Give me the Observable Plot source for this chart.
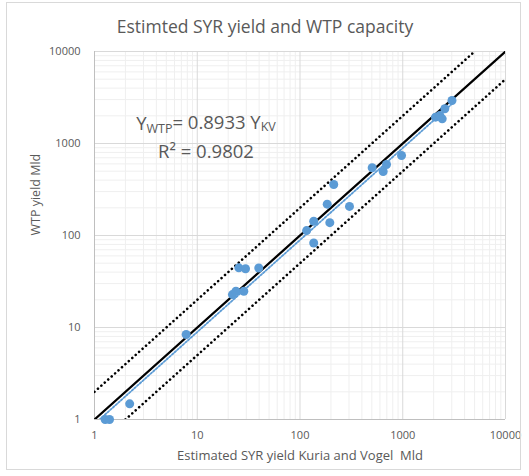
<!DOCTYPE html>
<html><head><meta charset="utf-8">
<script src="https://cdn.jsdelivr.net/npm/d3@7"></script>
<script src="https://cdn.jsdelivr.net/npm/@observablehq/plot@0.6"></script>
<style>
body{margin:0;background:#fff;}
#chart{position:relative;width:529px;height:476px;}
#frame{position:absolute;left:6px;top:2px;width:515px;height:468px;border:1px solid #d9d9d9;box-sizing:border-box;pointer-events:none;}
</style></head><body><div id="chart"><div id="frame"></div></div>
<script>
const title = "Estimted SYR yield and WTP capacity";
const xLabel = "Estimated SYR yield Kuria and Vogel  Mld";
const yLabel = "WTP yield Mld";
const tickValues = [1, 10, 100, 1000, 10000];

// scatter data (Kuria & Vogel estimate vs WTP yield), Mld
const kvYield  = [1.27, 1.4, 2.2, 7.8, 22.0, 23.8, 25.4, 28.4, 29.5, 39.7, 116, 136, 136, 184, 195, 213, 303, 504, 645, 695, 973, 2084, 2294, 2421, 2566, 3014];
const wtpYield = [1, 1, 1.48, 8.4, 22.8, 24.8, 44.5, 24.8, 43.5, 44.3, 113, 143, 83, 219, 138, 358, 207, 545, 496, 591, 741, 1932, 2015, 1855, 2384, 2934];

// reference lines
const oneToOneX = [1, 10000], oneToOneY = [1, 10000];
const upperX = [1, 5000], upperY = [2, 10000];
const lowerX = [2, 10000], lowerY = [1, 5000];
const trendX = [1.12, 3014], trendY = [1, 2692];

const eqMain = "Y", eqSub1 = "WTP", eqMid = "= 0.8933 Y", eqSub2 = "KV";
const r2Text = "R\u00b2 = 0.9802";
const annotX = 12.3, annotY1 = 1384, annotY2 = 680;

const pts = kvYield.map((x, i) => ({x, y: wtpYield[i]}));
const toXY = (xs, ys) => xs.map((x, i) => ({x, y: ys[i]}));
const minor = d3.scaleLog().domain([1, 10000]).ticks().filter(v => !tickValues.includes(v));

const blue = "#5B9BD5", grey = "#595959";
const plot = Plot.plot({
  width: 529, height: 476,
  marginLeft: 94, marginRight: 24, marginTop: 51, marginBottom: 57,
  style: {fontFamily: "'Open Sans', sans-serif", fontSize: "11px", color: grey, background: "transparent"},
  x: {type: "log", domain: [1, 10000]},
  y: {type: "log", domain: [1, 10000]},
  marks: [
    Plot.ruleX(minor, {stroke: "#efefef", strokeWidth: 1}),
    Plot.ruleY(minor, {stroke: "#efefef", strokeWidth: 1}),
    Plot.ruleX(tickValues, {stroke: "#d9d9d9", strokeWidth: 1}),
    Plot.ruleY(tickValues, {stroke: "#d9d9d9", strokeWidth: 1}),
    Plot.ruleX([1], {stroke: "#bfbfbf"}),
    Plot.ruleY([1], {stroke: "#bfbfbf"}),
    Plot.axisX({ticks: tickValues, tickFormat: d => String(d), tickSize: 0, tickPadding: 12, label: null, fill: grey, fontSize: 11}),
    Plot.axisY({ticks: tickValues, tickFormat: d => String(d), tickSize: 0, tickPadding: 14, label: null, fill: grey, fontSize: 11}),
    Plot.line(toXY(trendX, trendY), {x: "x", y: "y", stroke: blue, strokeWidth: 1.8, strokeDasharray: "1.8 1.8", clip: true}),
    Plot.line(toXY(oneToOneX, oneToOneY), {x: "x", y: "y", stroke: "black", strokeWidth: 2.25, clip: true}),
    Plot.line(toXY(upperX, upperY), {x: "x", y: "y", stroke: "black", strokeWidth: 2.6, strokeLinecap: "round", strokeDasharray: "0.01 4.6", clip: true}),
    Plot.line(toXY(lowerX, lowerY), {x: "x", y: "y", stroke: "black", strokeWidth: 2.6, strokeLinecap: "round", strokeDasharray: "0.01 4.6", clip: true}),
    Plot.dot(pts, {x: "x", y: "y", r: 4.5, fill: blue, stroke: "none"}),
    Plot.text([title], {frameAnchor: "top", dx: -35, dy: -24, fontSize: 17.5, fill: grey, lineAnchor: "middle"}),
    Plot.text([xLabel], {frameAnchor: "bottom", dy: 36, fontSize: 13, fill: grey, lineAnchor: "middle"}),
    Plot.text([yLabel], {frameAnchor: "left", dx: -59, rotate: -90, fontSize: 12.5, fill: grey, lineAnchor: "middle"})
  ]
});
document.getElementById("chart").prepend(plot);

const sx = plot.scale("x"), sy = plot.scale("y");
const svg = d3.select(plot);
const t1 = svg.append("text")
  .attr("x", sx.apply(annotX)).attr("y", sy.apply(annotY1))
  .attr("text-anchor", "middle").attr("fill", grey)
  .style("font-family", "'Open Sans', sans-serif").style("font-size", "18.5px");
t1.append("tspan").text(eqMain);
t1.append("tspan").attr("dy", "0.22em").style("font-size", "12.5px").text(eqSub1);
t1.append("tspan").attr("dy", "-0.22em").text(eqMid);
t1.append("tspan").attr("dy", "0.22em").style("font-size", "12.5px").text(eqSub2);
svg.append("text")
  .attr("x", sx.apply(annotX)).attr("y", sy.apply(annotY2))
  .attr("text-anchor", "middle").attr("fill", grey)
  .style("font-family", "'Open Sans', sans-serif").style("font-size", "18.5px")
  .text(r2Text);
</script>
</body></html>
